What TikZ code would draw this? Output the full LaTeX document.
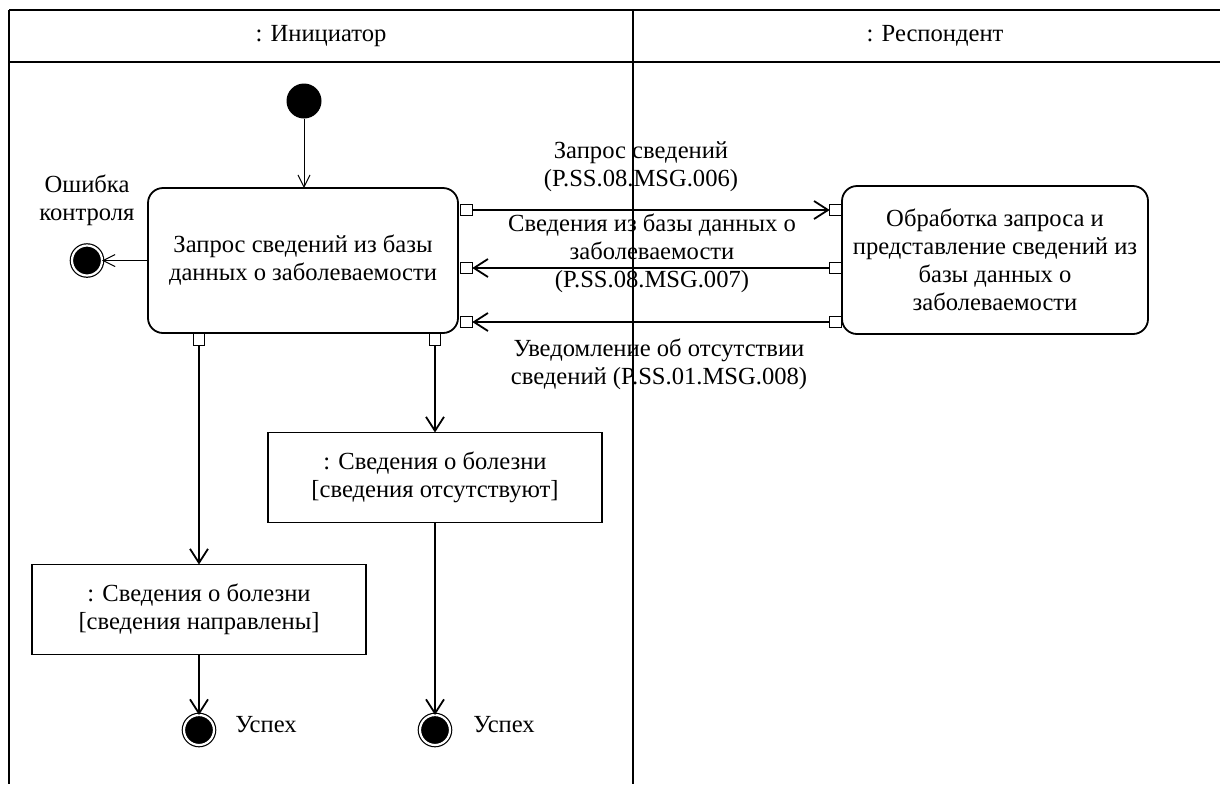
\documentclass[tikz,border=0pt]{standalone}
\usepackage{fontspec}
\setmainfont{Liberation Serif}
\usepackage{pgf,tikz}
\usetikzlibrary{arrows.meta}

\begin{document}
\begin{tikzpicture}[x=0.5pt, y=-0.5pt,
        every node/.style={font=\fontsize{12.3}{14}\selectfont, align=center, inner sep=0pt, outer sep=0pt},
        lane/.style={line width=1.1pt},
        act/.style={draw, line width=0.9pt, rounded corners=7.5pt},
        obj/.style={draw, line width=0.9pt, minimum width=167pt, minimum height=45pt},
        port/.style={draw, fill=white, line width=0.4pt, minimum size=5.8pt},
        start/.style={circle, fill=black, minimum size=17.5pt},
        stop/.style={circle, draw, fill=black, line width=0.6pt, double, double distance=1.1pt, minimum size=15pt},
        flow/.style={line width=0.9pt, -{Straight Barb[length=7pt, width=9pt]}},
        thinflow/.style={line width=0.5pt, -{Straight Barb[length=6pt, width=6pt]}}]
            \useasboundingbox (0,0) rectangle (1220,784);
            \draw[lane] (9,10) -- (1220,10);
            \draw[lane] (9,62) -- (1220,62);
            \draw[lane] (9,10) -- (9,784);
            \draw[lane] (633,10) -- (633,784);
            \node (hInit) at (321,36) {: Инициатор};
            \node (hResp) at (935,36) {: Респондент};
            \node[start] (init) at (304,101) {};
            \node[act, minimum width=155pt, minimum height=72.5pt] (req) at (303,260.5) {Запрос сведений из базы\\данных о заболеваемости};
            \node[act, minimum width=153pt, minimum height=74pt] (proc) at (995,260) {Обработка запроса и\\представление сведений из\\базы данных о\\заболеваемости};
            \node[obj] (sent) at (199,609.5) {: Сведения о болезни\\{[}сведения направлены{]}};
            \node[obj] (none) at (435,477.5) {: Сведения о болезни\\{[}сведения отсутствуют{]}};
            \node[port] (pOut) at (466.5,210) {};
            \node[port] (pIn1) at (466.5,268) {};
            \node[port] (pIn2) at (466.5,322) {};
            \node[port] (qIn) at (835.5,210) {};
            \node[port] (qOut1) at (835.5,268) {};
            \node[port] (qOut2) at (835.5,322) {};
            \node[port] (pSent) at (199,339.5) {};
            \node[port] (pNone) at (435,339.5) {};
            \node[stop] (err) at (87,260.5) {};
            \node (errLbl) at (87,200) {Ошибка\\контроля};
            \node[stop] (ok1) at (199,730) {};
            \node[stop] (ok2) at (435,730) {};
            \node (ok1Lbl) at (266,725) {Успех};
            \node (ok2Lbl) at (504,725) {Успех};
            \node (m1) at (641,167) {Запрос сведений\\(P.SS.08.MSG.006)};
            \node (m2) at (652,253) {Сведения из базы данных о\\заболеваемости\\(P.SS.08.MSG.007)};
            \node (m3) at (659,364) {Уведомление об отсутствии\\сведений (P.SS.01.MSG.008)};
            \draw[thinflow] (init) -- (init |- req.north);
            \draw[thinflow] (req) -- (err);
            \draw[flow] (pOut) -- (qIn);
            \draw[flow] (qOut1) -- (pIn1);
            \draw[flow] (qOut2) -- (pIn2);
            \draw[flow] (pSent) -- (sent);
            \draw[flow] (pNone) -- (none);
            \draw[flow] (sent) -- (ok1);
            \draw[flow] (none) -- (ok2);
        \end{tikzpicture}
\end{document}
